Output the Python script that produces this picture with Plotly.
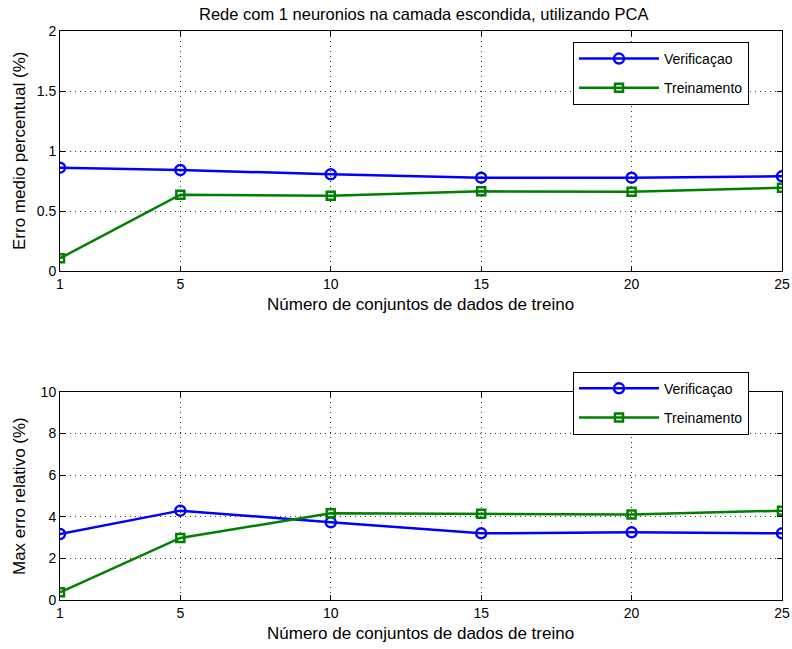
import plotly.graph_objects as go

x_vals = [1, 5, 10, 15, 20, 25]
x_ticks = [1, 5, 10, 15, 20, 25]

verif_medio = [0.861, 0.842, 0.806, 0.778, 0.778, 0.789]
trein_medio = [0.106, 0.636, 0.628, 0.664, 0.661, 0.694]

verif_max = [3.17, 4.29, 3.73, 3.20, 3.25, 3.20]
trein_max = [0.37, 2.98, 4.16, 4.14, 4.11, 4.29]

top_yticks = [0, 0.5, 1, 1.5, 2]
top_ytext = ["0", "0.5", "1", "1.5", "2"]
bot_yticks = [0, 2, 4, 6, 8, 10]

title_text = "Rede com 1 neuronios na camada escondida, utilizando PCA"
xlabel = "Número de conjuntos de dados de treino"
ylabel_top = "Erro medio percentual (%)"
ylabel_bot = "Max erro relativo (%)"

BLUE = "#0000FF"
GREEN = "#008000"
FONT = "Liberation Sans, Arial, Helvetica, sans-serif"

W, H = 792, 649

fig = go.Figure()

def add_pair(yv, yt, xaxis, yaxis, legend):
    fig.add_trace(go.Scatter(
        x=x_vals, y=yv, name="Verificaçao", mode="lines+markers",
        line=dict(color=BLUE, width=2.5),
        marker=dict(symbol="circle-open", size=10, color=BLUE, line=dict(width=2.5, color=BLUE)),
        xaxis=xaxis, yaxis=yaxis, legend=legend, legendgroup=legend + "a"))
    fig.add_trace(go.Scatter(
        x=x_vals, y=yt, name="Treinamento", mode="lines+markers",
        line=dict(color=GREEN, width=2.5),
        marker=dict(symbol="square-open", size=8, color=GREEN, line=dict(width=2.5, color=GREEN)),
        xaxis=xaxis, yaxis=yaxis, legend=legend, legendgroup=legend + "b"))

add_pair(verif_medio, trein_medio, "x", "y", "legend")
add_pair(verif_max, trein_max, "x2", "y2", "legend2")

xd = [60 / W, 782 / W]
top_dom = [(H - 271) / H, (H - 31) / H]
bot_dom = [(H - 600) / H, (H - 391.7) / H]

axis_common = dict(
    showline=True, linecolor="black", linewidth=1, mirror="ticks",
    ticks="inside", ticklen=5, tickcolor="black", automargin=False,
    showgrid=True, gridcolor="rgba(0,0,0,0.8)", griddash="1px,4px", gridwidth=1,
    zeroline=False, tickfont=dict(size=14, color="black", family=FONT),
)

legend_common = dict(
    x=573 / W, xanchor="left", yanchor="top",
    bordercolor="black", borderwidth=1, bgcolor="white",
    font=dict(size=14, family=FONT), itemwidth=80, tracegroupgap=8,
    entrywidth=108, entrywidthmode="pixels",
)

def ann(text, x, y, angle=0, size=17):
    return dict(text=text, x=x / W, y=(H - y) / H, xref="paper", yref="paper",
                showarrow=False, textangle=angle, font=dict(size=size, family=FONT, color="black"),
                xanchor="center", yanchor="middle")

fig.update_layout(
    width=W, height=H,
    margin=dict(l=0, r=0, t=0, b=0),
    paper_bgcolor="white", plot_bgcolor="white",
    font=dict(family=FONT, color="black"),
    showlegend=True,
    xaxis=dict(domain=xd, anchor="y", range=[1, 25], tickvals=x_ticks, **axis_common),
    yaxis=dict(domain=top_dom, anchor="x", range=[0, 2], tickvals=top_yticks, ticktext=top_ytext,
               **axis_common),
    xaxis2=dict(domain=xd, anchor="y2", range=[1, 25], tickvals=x_ticks, **axis_common),
    yaxis2=dict(domain=bot_dom, anchor="x2", range=[0, 10], tickvals=bot_yticks, **axis_common),
    legend=dict(y=(H - 42) / H, **legend_common),
    legend2=dict(y=(H - 371.7) / H, **legend_common),
    annotations=[
        ann(title_text, 423, 14, size=16.5),
        ann(xlabel, 420, 304),
        ann(xlabel, 420, 633),
        ann(ylabel_top, 19, 151, angle=-90),
        ann(ylabel_bot, 19, 496, angle=-90),
    ],
)

fig.write_html("out.html")
